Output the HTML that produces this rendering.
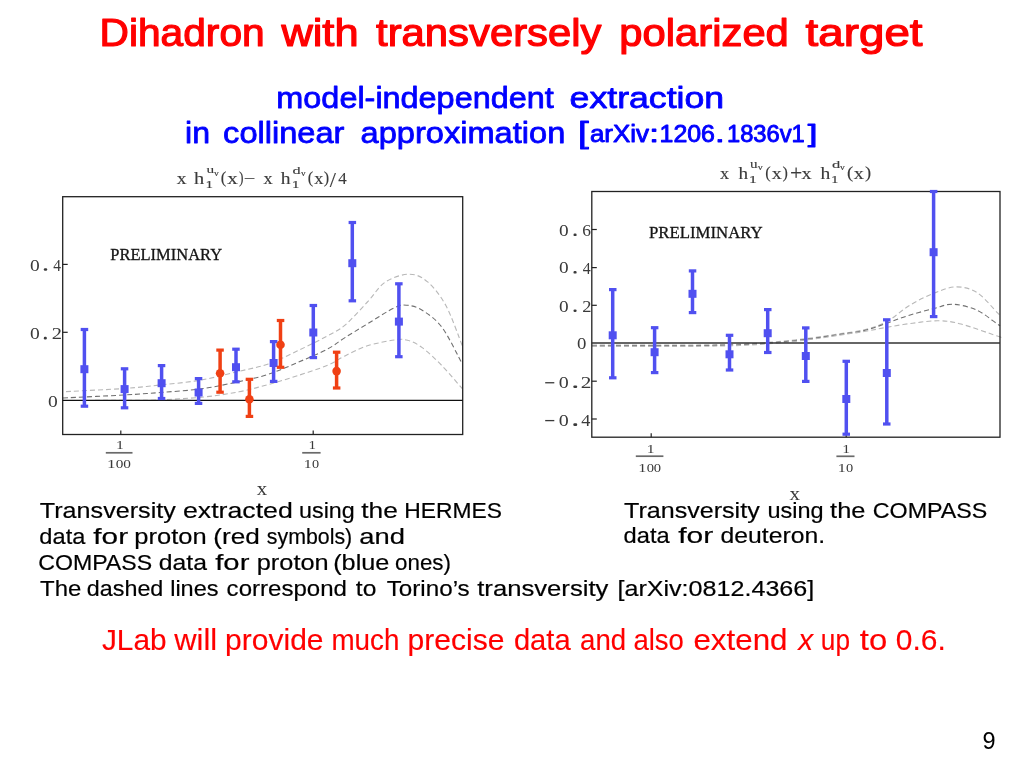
<!DOCTYPE html>
<html><head><meta charset="utf-8"><title>Dihadron with transversely polarized target</title>
<style>
html,body{margin:0;padding:0;background:#fff;}
body{width:1023px;height:767px;overflow:hidden;position:relative;font-family:"Liberation Sans",sans-serif;}
svg{position:absolute;left:0;top:0;display:block;will-change:transform;}
</style></head><body>
<svg width="1023" height="767" viewBox="0 0 1023 767">
<g fill="none" stroke-width="1.1" stroke-dasharray="5 3">
<path d="M66.0,391.6 C75.7,391.1 108.3,389.6 124.0,388.5 C139.7,387.4 147.2,386.4 160.0,385.0 C172.8,383.6 187.7,382.4 200.9,380.1 C214.1,377.8 227.8,374.0 239.0,371.3 C250.2,368.6 258.5,367.4 268.3,364.0 C278.1,360.6 287.8,355.4 297.6,350.8 C307.4,346.2 319.1,340.4 327.0,336.1 C334.9,331.8 338.3,330.8 345.0,325.1 C351.7,319.4 360.6,309.2 367.4,302.0 C374.2,294.8 378.6,286.5 385.6,281.9 C392.6,277.3 402.4,274.2 409.4,274.2 C416.4,274.2 421.5,276.7 427.6,281.9 C433.7,287.1 440.1,295.0 445.9,305.6 C451.7,316.2 459.6,339.1 462.3,345.8" stroke="#b8b8b8"/>
<path d="M63.0,398.0 C73.2,397.5 107.8,395.9 124.0,395.0 C140.2,394.1 147.2,393.5 160.0,392.5 C172.8,391.5 187.7,390.7 200.9,388.9 C214.1,387.1 227.8,384.0 239.0,381.6 C250.2,379.2 258.5,377.5 268.3,374.3 C278.1,371.1 287.8,366.7 297.6,362.5 C307.4,358.3 319.1,353.4 327.0,349.3 C334.9,345.2 338.3,341.8 345.0,337.6 C351.7,333.4 359.1,328.9 367.4,323.9 C375.7,318.9 388.1,310.6 394.8,307.5 C401.5,304.4 403.0,304.9 407.6,305.3 C412.2,305.8 416.4,306.5 422.2,310.2 C428.0,313.9 435.5,318.6 442.2,327.6 C448.9,336.6 458.9,358.0 462.3,364.1" stroke="#707070"/>
<path d="M63.0,400.5 C72.5,400.5 104.5,400.4 120.0,400.3 C135.5,400.2 142.0,400.6 156.0,400.0 C170.0,399.4 190.0,398.4 203.8,397.0 C217.6,395.6 228.2,393.9 239.0,391.8 C249.8,389.7 258.5,387.2 268.3,384.5 C278.1,381.8 287.8,378.9 297.6,375.7 C307.4,372.5 319.1,368.8 327.0,365.5 C334.9,362.2 338.3,359.2 345.0,355.9 C351.7,352.6 359.1,348.4 367.4,345.8 C375.7,343.2 388.1,340.9 394.8,340.0 C401.5,339.1 403.0,339.0 407.6,340.3 C412.2,341.6 416.4,343.3 422.2,347.6 C428.0,351.9 435.5,359.0 442.2,365.9 C448.9,372.8 458.9,384.9 462.3,388.7" stroke="#b8b8b8"/>
</g>
<rect x="62.7" y="196.7" width="400.0" height="237.8" fill="none" stroke="#222" stroke-width="1.3"/>
<line x1="62.7" y1="400.3" x2="462.7" y2="400.3" stroke="#111" stroke-width="1.3"/>
<line x1="62.7" y1="264.4" x2="67.7" y2="264.4" stroke="#222" stroke-width="1.2"/>
<line x1="62.7" y1="332.3" x2="67.7" y2="332.3" stroke="#222" stroke-width="1.2"/>
<line x1="120.8" y1="434.5" x2="120.8" y2="430.5" stroke="#222" stroke-width="1.2"/>
<line x1="313.2" y1="434.5" x2="313.2" y2="430.5" stroke="#222" stroke-width="1.2"/>
<line x1="84.4" y1="329.5" x2="84.4" y2="406.2" stroke="#5050f0" stroke-width="3.5"/><rect x="80.7" y="327.9" width="7.5" height="3.2" fill="#5050f0"/><rect x="80.7" y="404.6" width="7.5" height="3.2" fill="#5050f0"/><rect x="80.4" y="365.2" width="8" height="8" fill="#5050f0"/>
<line x1="124.6" y1="368.8" x2="124.6" y2="407.8" stroke="#5050f0" stroke-width="3.5"/><rect x="120.8" y="367.2" width="7.5" height="3.2" fill="#5050f0"/><rect x="120.8" y="406.2" width="7.5" height="3.2" fill="#5050f0"/><rect x="120.6" y="385.1" width="8" height="8" fill="#5050f0"/>
<line x1="161.6" y1="365.6" x2="161.6" y2="398.5" stroke="#5050f0" stroke-width="3.5"/><rect x="157.8" y="364.0" width="7.5" height="3.2" fill="#5050f0"/><rect x="157.8" y="396.9" width="7.5" height="3.2" fill="#5050f0"/><rect x="157.6" y="379.2" width="8" height="8" fill="#5050f0"/>
<line x1="198.6" y1="378.6" x2="198.6" y2="403.4" stroke="#5050f0" stroke-width="3.5"/><rect x="194.8" y="377.0" width="7.5" height="3.2" fill="#5050f0"/><rect x="194.8" y="401.8" width="7.5" height="3.2" fill="#5050f0"/><rect x="194.6" y="388.5" width="8" height="8" fill="#5050f0"/>
<line x1="220.1" y1="350.1" x2="220.1" y2="392.2" stroke="#f04014" stroke-width="3.5"/><rect x="216.3" y="348.5" width="7.5" height="3.2" fill="#f04014"/><rect x="216.3" y="390.6" width="7.5" height="3.2" fill="#f04014"/><circle cx="220.1" cy="373.2" r="4.3" fill="#f04014"/>
<line x1="236.0" y1="349.2" x2="236.0" y2="381.8" stroke="#5050f0" stroke-width="3.5"/><rect x="232.2" y="347.6" width="7.5" height="3.2" fill="#5050f0"/><rect x="232.2" y="380.2" width="7.5" height="3.2" fill="#5050f0"/><rect x="232.0" y="363.2" width="8" height="8" fill="#5050f0"/>
<line x1="249.4" y1="379.3" x2="249.4" y2="416.4" stroke="#f04014" stroke-width="3.5"/><rect x="245.7" y="377.7" width="7.5" height="3.2" fill="#f04014"/><rect x="245.7" y="414.8" width="7.5" height="3.2" fill="#f04014"/><circle cx="249.4" cy="399.2" r="4.3" fill="#f04014"/>
<line x1="273.6" y1="341.6" x2="273.6" y2="381.4" stroke="#5050f0" stroke-width="3.5"/><rect x="269.9" y="340.0" width="7.5" height="3.2" fill="#5050f0"/><rect x="269.9" y="379.8" width="7.5" height="3.2" fill="#5050f0"/><rect x="269.6" y="359.0" width="8" height="8" fill="#5050f0"/>
<line x1="280.5" y1="320.5" x2="280.5" y2="367.3" stroke="#f04014" stroke-width="3.5"/><rect x="276.8" y="318.9" width="7.5" height="3.2" fill="#f04014"/><rect x="276.8" y="365.7" width="7.5" height="3.2" fill="#f04014"/><circle cx="280.5" cy="344.8" r="4.3" fill="#f04014"/>
<line x1="313.3" y1="305.5" x2="313.3" y2="357.6" stroke="#5050f0" stroke-width="3.5"/><rect x="309.6" y="303.9" width="7.5" height="3.2" fill="#5050f0"/><rect x="309.6" y="356.0" width="7.5" height="3.2" fill="#5050f0"/><rect x="309.3" y="328.5" width="8" height="8" fill="#5050f0"/>
<line x1="336.6" y1="352.2" x2="336.6" y2="388.0" stroke="#f04014" stroke-width="3.5"/><rect x="332.9" y="350.6" width="7.5" height="3.2" fill="#f04014"/><rect x="332.9" y="386.4" width="7.5" height="3.2" fill="#f04014"/><circle cx="336.6" cy="371.1" r="4.3" fill="#f04014"/>
<line x1="352.3" y1="222.5" x2="352.3" y2="300.8" stroke="#5050f0" stroke-width="3.5"/><rect x="348.6" y="220.9" width="7.5" height="3.2" fill="#5050f0"/><rect x="348.6" y="299.2" width="7.5" height="3.2" fill="#5050f0"/><rect x="348.3" y="259.2" width="8" height="8" fill="#5050f0"/>
<line x1="398.9" y1="283.8" x2="398.9" y2="356.7" stroke="#5050f0" stroke-width="3.5"/><rect x="395.1" y="282.2" width="7.5" height="3.2" fill="#5050f0"/><rect x="395.1" y="355.1" width="7.5" height="3.2" fill="#5050f0"/><rect x="394.9" y="317.6" width="8" height="8" fill="#5050f0"/>
<g fill="none" stroke-width="1.1" stroke-dasharray="5 3">
<path d="M592.0,345.0 C601.7,345.0 632.0,345.1 650.0,345.1 C668.0,345.1 685.0,345.1 700.0,344.9 C715.0,344.7 727.7,344.6 740.0,344.1 C752.3,343.6 762.7,342.9 774.0,341.9 C785.3,341.0 797.7,339.7 808.0,338.4 C818.3,337.1 826.6,335.8 836.0,334.3 C845.4,332.9 855.7,331.8 864.2,329.7 C872.7,327.6 879.3,325.6 886.8,321.6 C894.3,317.6 901.6,310.2 909.4,305.5 C917.2,300.8 925.7,296.5 933.5,293.4 C941.3,290.3 948.8,287.0 956.1,286.9 C963.4,286.8 970.2,288.3 977.1,292.6 C984.0,296.9 993.5,308.9 997.3,312.7 C1001.1,316.5 999.5,315.0 1000.0,315.5" stroke="#b8b8b8"/>
<path d="M592.0,345.7 C601.7,345.7 632.0,345.8 650.0,345.8 C668.0,345.8 685.0,345.8 700.0,345.6 C715.0,345.4 727.7,345.3 740.0,344.8 C752.3,344.3 762.7,343.6 774.0,342.6 C785.3,341.7 797.7,340.4 808.0,339.1 C818.3,337.8 826.6,336.4 836.0,335.0 C845.4,333.6 855.7,332.5 864.2,330.5 C872.7,328.5 879.3,325.8 886.8,323.2 C894.3,320.6 901.6,317.6 909.4,315.2 C917.2,312.8 926.2,310.5 933.5,308.7 C940.8,306.9 945.6,303.9 952.9,304.2 C960.2,304.5 969.7,307.0 977.1,310.3 C984.5,313.6 993.5,321.5 997.3,324.0 C1001.1,326.5 999.5,325.2 1000.0,325.5" stroke="#707070"/>
<path d="M592.0,346.4 C601.7,346.4 632.0,346.5 650.0,346.5 C668.0,346.5 685.0,346.5 700.0,346.3 C715.0,346.1 727.7,346.0 740.0,345.5 C752.3,345.0 762.7,344.2 774.0,343.3 C785.3,342.4 797.7,341.1 808.0,339.8 C818.3,338.5 826.6,337.1 836.0,335.7 C845.4,334.3 855.7,332.9 864.2,331.5 C872.7,330.1 878.7,328.7 886.8,327.3 C894.9,325.9 904.0,324.3 912.6,323.2 C921.2,322.1 930.3,320.7 938.4,320.8 C946.5,320.9 951.2,321.4 961.0,324.0 C970.8,326.6 990.8,333.9 997.3,336.1 C1003.8,338.3 999.5,336.9 1000.0,337.0" stroke="#b8b8b8"/>
</g>
<rect x="591.8" y="191.5" width="408.2" height="245.7" fill="none" stroke="#222" stroke-width="1.3"/>
<line x1="591.8" y1="343.0" x2="1000.0" y2="343.0" stroke="#333" stroke-width="1.5"/>
<line x1="591.8" y1="229.5" x2="596.8" y2="229.5" stroke="#222" stroke-width="1.2"/>
<line x1="591.8" y1="267.6" x2="596.8" y2="267.6" stroke="#222" stroke-width="1.2"/>
<line x1="591.8" y1="305.3" x2="596.8" y2="305.3" stroke="#222" stroke-width="1.2"/>
<line x1="591.8" y1="381.2" x2="596.8" y2="381.2" stroke="#222" stroke-width="1.2"/>
<line x1="591.8" y1="419.0" x2="596.8" y2="419.0" stroke="#222" stroke-width="1.2"/>
<line x1="651.2" y1="437.2" x2="651.2" y2="433.2" stroke="#222" stroke-width="1.2"/>
<line x1="846.2" y1="437.2" x2="846.2" y2="433.2" stroke="#222" stroke-width="1.2"/>
<line x1="612.7" y1="289.6" x2="612.7" y2="377.8" stroke="#5050f0" stroke-width="3.5"/><rect x="609.0" y="288.0" width="7.5" height="3.2" fill="#5050f0"/><rect x="609.0" y="376.2" width="7.5" height="3.2" fill="#5050f0"/><rect x="608.7" y="331.3" width="8" height="8" fill="#5050f0"/>
<line x1="654.6" y1="327.7" x2="654.6" y2="372.6" stroke="#5050f0" stroke-width="3.5"/><rect x="650.9" y="326.1" width="7.5" height="3.2" fill="#5050f0"/><rect x="650.9" y="371.0" width="7.5" height="3.2" fill="#5050f0"/><rect x="650.6" y="348.2" width="8" height="8" fill="#5050f0"/>
<line x1="692.5" y1="270.9" x2="692.5" y2="312.6" stroke="#5050f0" stroke-width="3.5"/><rect x="688.8" y="269.3" width="7.5" height="3.2" fill="#5050f0"/><rect x="688.8" y="311.0" width="7.5" height="3.2" fill="#5050f0"/><rect x="688.5" y="289.8" width="8" height="8" fill="#5050f0"/>
<line x1="729.5" y1="335.3" x2="729.5" y2="370.0" stroke="#5050f0" stroke-width="3.5"/><rect x="725.8" y="333.7" width="7.5" height="3.2" fill="#5050f0"/><rect x="725.8" y="368.4" width="7.5" height="3.2" fill="#5050f0"/><rect x="725.5" y="350.3" width="8" height="8" fill="#5050f0"/>
<line x1="767.7" y1="309.6" x2="767.7" y2="352.5" stroke="#5050f0" stroke-width="3.5"/><rect x="764.0" y="308.0" width="7.5" height="3.2" fill="#5050f0"/><rect x="764.0" y="350.9" width="7.5" height="3.2" fill="#5050f0"/><rect x="763.7" y="329.2" width="8" height="8" fill="#5050f0"/>
<line x1="805.8" y1="327.9" x2="805.8" y2="381.4" stroke="#5050f0" stroke-width="3.5"/><rect x="802.0" y="326.3" width="7.5" height="3.2" fill="#5050f0"/><rect x="802.0" y="379.8" width="7.5" height="3.2" fill="#5050f0"/><rect x="801.8" y="352.0" width="8" height="8" fill="#5050f0"/>
<line x1="846.3" y1="361.3" x2="846.3" y2="434.2" stroke="#5050f0" stroke-width="3.5"/><rect x="842.5" y="359.7" width="7.5" height="3.2" fill="#5050f0"/><rect x="842.5" y="432.6" width="7.5" height="3.2" fill="#5050f0"/><rect x="842.3" y="395.0" width="8" height="8" fill="#5050f0"/>
<line x1="886.8" y1="319.8" x2="886.8" y2="424.0" stroke="#5050f0" stroke-width="3.5"/><rect x="883.0" y="318.2" width="7.5" height="3.2" fill="#5050f0"/><rect x="883.0" y="422.4" width="7.5" height="3.2" fill="#5050f0"/><rect x="882.8" y="369.0" width="8" height="8" fill="#5050f0"/>
<line x1="933.6" y1="191.5" x2="933.6" y2="316.6" stroke="#5050f0" stroke-width="3.5"/><rect x="929.9" y="189.9" width="7.5" height="3.2" fill="#5050f0"/><rect x="929.9" y="315.0" width="7.5" height="3.2" fill="#5050f0"/><rect x="929.6" y="248.2" width="8" height="8" fill="#5050f0"/>
<text x="29.92" y="270.64" font-size="16.15" fill="#3a3a3a" textLength="9.76" lengthAdjust="spacingAndGlyphs" font-family="Liberation Serif, serif" stroke="#3a3a3a" stroke-width="0.00" >0</text><rect x="43.80" y="268.20" width="3.40" height="2.60" rx="1.2" fill="#3a3a3a"/><text x="53.29" y="270.80" font-size="16.52" fill="#3a3a3a" textLength="7.74" lengthAdjust="spacingAndGlyphs" font-family="Liberation Serif, serif" stroke="#3a3a3a" stroke-width="0.00" >4</text>
<text x="30.12" y="339.23" font-size="16.59" fill="#3a3a3a" textLength="9.76" lengthAdjust="spacingAndGlyphs" font-family="Liberation Serif, serif" stroke="#3a3a3a" stroke-width="0.00" >0</text><rect x="43.80" y="336.80" width="3.00" height="2.60" rx="1.2" fill="#3a3a3a"/><text x="51.68" y="339.40" font-size="16.97" fill="#3a3a3a" textLength="10.25" lengthAdjust="spacingAndGlyphs" font-family="Liberation Serif, serif" stroke="#3a3a3a" stroke-width="0.00" >2</text>
<text x="48.12" y="406.64" font-size="15.70" fill="#3a3a3a" textLength="9.76" lengthAdjust="spacingAndGlyphs" font-family="Liberation Serif, serif" stroke="#3a3a3a" stroke-width="0.00" >0</text>
<text x="559.03" y="235.94" font-size="16.44" fill="#3a3a3a" textLength="9.64" lengthAdjust="spacingAndGlyphs" font-family="Liberation Serif, serif" stroke="#3a3a3a" stroke-width="0.00" >0</text><rect x="573.50" y="233.50" width="3.10" height="2.60" rx="1.2" fill="#3a3a3a"/><text x="582.22" y="235.93" font-size="16.57" fill="#3a3a3a" textLength="8.71" lengthAdjust="spacingAndGlyphs" font-family="Liberation Serif, serif" stroke="#3a3a3a" stroke-width="0.00" >6</text>
<text x="559.03" y="273.44" font-size="16.00" fill="#3a3a3a" textLength="9.64" lengthAdjust="spacingAndGlyphs" font-family="Liberation Serif, serif" stroke="#3a3a3a" stroke-width="0.00" >0</text><rect x="573.50" y="271.00" width="3.10" height="2.60" rx="1.2" fill="#3a3a3a"/><text x="582.68" y="273.60" font-size="16.36" fill="#3a3a3a" textLength="7.96" lengthAdjust="spacingAndGlyphs" font-family="Liberation Serif, serif" stroke="#3a3a3a" stroke-width="0.00" >4</text>
<text x="559.03" y="311.84" font-size="16.00" fill="#3a3a3a" textLength="9.64" lengthAdjust="spacingAndGlyphs" font-family="Liberation Serif, serif" stroke="#3a3a3a" stroke-width="0.00" >0</text><rect x="573.50" y="309.40" width="3.10" height="2.60" rx="1.2" fill="#3a3a3a"/><text x="582.17" y="312.00" font-size="16.36" fill="#3a3a3a" textLength="9.25" lengthAdjust="spacingAndGlyphs" font-family="Liberation Serif, serif" stroke="#3a3a3a" stroke-width="0.00" >2</text>
<text x="577.05" y="349.44" font-size="16.44" fill="#3a3a3a" textLength="9.40" lengthAdjust="spacingAndGlyphs" font-family="Liberation Serif, serif" stroke="#3a3a3a" stroke-width="0.00" >0</text>
<rect x="545.20" y="382.10" width="9.10" height="1.3" fill="#3a3a3a"/><text x="558.80" y="387.84" font-size="16.30" fill="#3a3a3a" textLength="10.00" lengthAdjust="spacingAndGlyphs" font-family="Liberation Serif, serif" stroke="#3a3a3a" stroke-width="0.00" >0</text><rect x="573.30" y="385.40" width="3.90" height="2.60" rx="1.2" fill="#3a3a3a"/><text x="580.74" y="388.00" font-size="16.67" fill="#3a3a3a" textLength="10.62" lengthAdjust="spacingAndGlyphs" font-family="Liberation Serif, serif" stroke="#3a3a3a" stroke-width="0.00" >2</text>
<rect x="545.20" y="419.95" width="9.10" height="1.3" fill="#3a3a3a"/><text x="558.80" y="425.74" font-size="16.44" fill="#3a3a3a" textLength="10.00" lengthAdjust="spacingAndGlyphs" font-family="Liberation Serif, serif" stroke="#3a3a3a" stroke-width="0.00" >0</text><rect x="573.30" y="423.30" width="3.90" height="2.60" rx="1.2" fill="#3a3a3a"/><text x="581.33" y="425.90" font-size="16.82" fill="#3a3a3a" textLength="9.14" lengthAdjust="spacingAndGlyphs" font-family="Liberation Serif, serif" stroke="#3a3a3a" stroke-width="0.00" >4</text>
<text x="116.09" y="449.40" font-size="12.42" fill="#3a3a3a" textLength="7.86" lengthAdjust="spacingAndGlyphs" font-family="Liberation Serif, serif" stroke="#3a3a3a" stroke-width="0.00" >1</text><rect x="105.80" y="451.95" width="26.70" height="1.7" fill="#6a6a6a"/><text x="107.05" y="467.80" font-size="13.03" fill="#3a3a3a" textLength="8.62" lengthAdjust="spacingAndGlyphs" font-family="Liberation Serif, serif" stroke="#3a3a3a" stroke-width="0.00" >1</text><text x="115.82" y="467.67" font-size="12.74" fill="#3a3a3a" textLength="7.66" lengthAdjust="spacingAndGlyphs" font-family="Liberation Serif, serif" stroke="#3a3a3a" stroke-width="0.00" >0</text><text x="123.25" y="467.67" font-size="12.74" fill="#3a3a3a" textLength="7.66" lengthAdjust="spacingAndGlyphs" font-family="Liberation Serif, serif" stroke="#3a3a3a" stroke-width="0.00" >0</text>
<text x="308.44" y="449.40" font-size="12.42" fill="#3a3a3a" textLength="7.57" lengthAdjust="spacingAndGlyphs" font-family="Liberation Serif, serif" stroke="#3a3a3a" stroke-width="0.00" >1</text><rect x="302.20" y="451.95" width="18.40" height="1.7" fill="#6a6a6a"/><text x="303.86" y="467.80" font-size="13.03" fill="#3a3a3a" textLength="8.00" lengthAdjust="spacingAndGlyphs" font-family="Liberation Serif, serif" stroke="#3a3a3a" stroke-width="0.00" >1</text><text x="312.13" y="467.67" font-size="12.74" fill="#3a3a3a" textLength="7.14" lengthAdjust="spacingAndGlyphs" font-family="Liberation Serif, serif" stroke="#3a3a3a" stroke-width="0.00" >0</text>
<text x="646.69" y="452.80" font-size="12.73" fill="#3a3a3a" textLength="7.86" lengthAdjust="spacingAndGlyphs" font-family="Liberation Serif, serif" stroke="#3a3a3a" stroke-width="0.00" >1</text><rect x="635.80" y="455.35" width="27.60" height="1.7" fill="#6a6a6a"/><text x="638.33" y="471.70" font-size="13.03" fill="#3a3a3a" textLength="8.19" lengthAdjust="spacingAndGlyphs" font-family="Liberation Serif, serif" stroke="#3a3a3a" stroke-width="0.00" >1</text><text x="646.75" y="471.57" font-size="12.74" fill="#3a3a3a" textLength="7.30" lengthAdjust="spacingAndGlyphs" font-family="Liberation Serif, serif" stroke="#3a3a3a" stroke-width="0.00" >0</text><text x="653.88" y="471.57" font-size="12.74" fill="#3a3a3a" textLength="7.30" lengthAdjust="spacingAndGlyphs" font-family="Liberation Serif, serif" stroke="#3a3a3a" stroke-width="0.00" >0</text>
<text x="842.39" y="452.80" font-size="12.73" fill="#3a3a3a" textLength="7.86" lengthAdjust="spacingAndGlyphs" font-family="Liberation Serif, serif" stroke="#3a3a3a" stroke-width="0.00" >1</text><rect x="836.40" y="455.45" width="18.10" height="1.7" fill="#6a6a6a"/><text x="837.75" y="471.70" font-size="13.03" fill="#3a3a3a" textLength="8.07" lengthAdjust="spacingAndGlyphs" font-family="Liberation Serif, serif" stroke="#3a3a3a" stroke-width="0.00" >1</text><text x="846.07" y="471.57" font-size="12.74" fill="#3a3a3a" textLength="7.20" lengthAdjust="spacingAndGlyphs" font-family="Liberation Serif, serif" stroke="#3a3a3a" stroke-width="0.00" >0</text>
<text x="256.79" y="495.00" font-size="17.83" fill="#3a3a3a" textLength="10.42" lengthAdjust="spacingAndGlyphs" font-family="Liberation Serif, serif" stroke="#3a3a3a" stroke-width="0.00" >x</text>
<text x="789.59" y="499.60" font-size="18.04" fill="#3a3a3a" textLength="10.52" lengthAdjust="spacingAndGlyphs" font-family="Liberation Serif, serif" stroke="#3a3a3a" stroke-width="0.00" >x</text>
<text x="110.3" y="259.6" font-size="16.4" textLength="111.8" lengthAdjust="spacingAndGlyphs" font-family="Liberation Serif, serif" fill="#151515" stroke="#151515" stroke-width="0.3">PRELIMINARY</text>
<text x="648.9" y="238.2" font-size="16.6" textLength="113.8" lengthAdjust="spacingAndGlyphs" font-family="Liberation Serif, serif" fill="#151515" stroke="#151515" stroke-width="0.3">PRELIMINARY</text>
<text x="176.70" y="183.90" font-size="16.52" fill="#3a3a3a" textLength="9.79" lengthAdjust="spacingAndGlyphs" font-family="Liberation Serif, serif" stroke="#3a3a3a" stroke-width="0.12" >x</text><text x="194.00" y="183.90" font-size="16.26" fill="#3a3a3a" textLength="10.21" lengthAdjust="spacingAndGlyphs" font-family="Liberation Serif, serif" stroke="#3a3a3a" stroke-width="0.12" >h</text><text x="205.54" y="188.10" font-size="10.00" fill="#3a3a3a" textLength="7.57" lengthAdjust="spacingAndGlyphs" font-family="Liberation Serif, serif" stroke="#3a3a3a" stroke-width="0.12" >1</text><text x="206.57" y="173.49" font-size="11.06" fill="#3a3a3a" textLength="7.66" lengthAdjust="spacingAndGlyphs" font-family="Liberation Serif, serif" stroke="#3a3a3a" stroke-width="0.12" >u</text><text x="214.00" y="175.93" font-size="7.23" fill="#3a3a3a" textLength="4.80" lengthAdjust="spacingAndGlyphs" font-family="Liberation Serif, serif" stroke="#3a3a3a" stroke-width="0.12" >v</text><text x="220.74" y="183.37" font-size="15.93" fill="#3a3a3a" textLength="5.62" lengthAdjust="spacingAndGlyphs" font-family="Liberation Serif, serif" stroke="#3a3a3a" stroke-width="0.12" >(</text><text x="227.39" y="183.90" font-size="16.52" fill="#3a3a3a" textLength="10.52" lengthAdjust="spacingAndGlyphs" font-family="Liberation Serif, serif" stroke="#3a3a3a" stroke-width="0.12" >x</text><text x="239.10" y="183.37" font-size="15.93" fill="#3a3a3a" textLength="4.48" lengthAdjust="spacingAndGlyphs" font-family="Liberation Serif, serif" stroke="#3a3a3a" stroke-width="0.12" >)</text><text x="243.77" y="184.23" font-size="16.00" fill="#3a3a3a" textLength="11.64" lengthAdjust="spacingAndGlyphs" font-family="Liberation Serif, serif" stroke="#3a3a3a" stroke-width="0.12" >−</text><text x="263.62" y="183.90" font-size="16.52" fill="#3a3a3a" textLength="9.17" lengthAdjust="spacingAndGlyphs" font-family="Liberation Serif, serif" stroke="#3a3a3a" stroke-width="0.12" >x</text><text x="280.80" y="183.90" font-size="16.26" fill="#3a3a3a" textLength="9.79" lengthAdjust="spacingAndGlyphs" font-family="Liberation Serif, serif" stroke="#3a3a3a" stroke-width="0.12" >h</text><text x="291.69" y="188.10" font-size="10.00" fill="#3a3a3a" textLength="7.86" lengthAdjust="spacingAndGlyphs" font-family="Liberation Serif, serif" stroke="#3a3a3a" stroke-width="0.12" >1</text><text x="292.53" y="173.79" font-size="11.21" fill="#3a3a3a" textLength="8.13" lengthAdjust="spacingAndGlyphs" font-family="Liberation Serif, serif" stroke="#3a3a3a" stroke-width="0.12" >d</text><text x="301.00" y="175.93" font-size="7.23" fill="#3a3a3a" textLength="4.60" lengthAdjust="spacingAndGlyphs" font-family="Liberation Serif, serif" stroke="#3a3a3a" stroke-width="0.12" >v</text><text x="307.66" y="183.37" font-size="15.93" fill="#3a3a3a" textLength="5.49" lengthAdjust="spacingAndGlyphs" font-family="Liberation Serif, serif" stroke="#3a3a3a" stroke-width="0.12" >(</text><text x="314.22" y="183.90" font-size="16.52" fill="#3a3a3a" textLength="9.17" lengthAdjust="spacingAndGlyphs" font-family="Liberation Serif, serif" stroke="#3a3a3a" stroke-width="0.12" >x</text><text x="323.72" y="183.37" font-size="15.93" fill="#3a3a3a" textLength="5.38" lengthAdjust="spacingAndGlyphs" font-family="Liberation Serif, serif" stroke="#3a3a3a" stroke-width="0.12" >)</text><text x="329.70" y="186.58" font-size="21.64" fill="#3a3a3a" textLength="6.16" lengthAdjust="spacingAndGlyphs" font-family="Liberation Serif, serif" stroke="#3a3a3a" stroke-width="0.12" >/</text><text x="338.26" y="183.90" font-size="16.06" fill="#3a3a3a" textLength="8.49" lengthAdjust="spacingAndGlyphs" font-family="Liberation Serif, serif" stroke="#3a3a3a" stroke-width="0.12" >4</text>
<text x="720.02" y="178.70" font-size="16.52" fill="#3a3a3a" textLength="9.17" lengthAdjust="spacingAndGlyphs" font-family="Liberation Serif, serif" stroke="#3a3a3a" stroke-width="0.12" >x</text><text x="738.51" y="178.70" font-size="16.26" fill="#3a3a3a" textLength="9.58" lengthAdjust="spacingAndGlyphs" font-family="Liberation Serif, serif" stroke="#3a3a3a" stroke-width="0.12" >h</text><text x="748.81" y="182.60" font-size="10.00" fill="#3a3a3a" textLength="8.29" lengthAdjust="spacingAndGlyphs" font-family="Liberation Serif, serif" stroke="#3a3a3a" stroke-width="0.12" >1</text><text x="750.07" y="167.78" font-size="11.91" fill="#3a3a3a" textLength="7.55" lengthAdjust="spacingAndGlyphs" font-family="Liberation Serif, serif" stroke="#3a3a3a" stroke-width="0.12" >u</text><text x="757.80" y="170.13" font-size="7.23" fill="#3a3a3a" textLength="5.00" lengthAdjust="spacingAndGlyphs" font-family="Liberation Serif, serif" stroke="#3a3a3a" stroke-width="0.12" >v</text><text x="765.36" y="178.17" font-size="15.93" fill="#3a3a3a" textLength="5.49" lengthAdjust="spacingAndGlyphs" font-family="Liberation Serif, serif" stroke="#3a3a3a" stroke-width="0.12" >(</text><text x="771.70" y="178.70" font-size="16.52" fill="#3a3a3a" textLength="10.00" lengthAdjust="spacingAndGlyphs" font-family="Liberation Serif, serif" stroke="#3a3a3a" stroke-width="0.12" >x</text><text x="782.62" y="178.17" font-size="15.93" fill="#3a3a3a" textLength="5.38" lengthAdjust="spacingAndGlyphs" font-family="Liberation Serif, serif" stroke="#3a3a3a" stroke-width="0.12" >)</text><text x="790.11" y="180.10" font-size="20.00" fill="#3a3a3a" textLength="12.25" lengthAdjust="spacingAndGlyphs" font-family="Liberation Serif, serif" stroke="#3a3a3a" stroke-width="0.12" >+</text><text x="801.50" y="178.70" font-size="16.52" fill="#3a3a3a" textLength="10.10" lengthAdjust="spacingAndGlyphs" font-family="Liberation Serif, serif" stroke="#3a3a3a" stroke-width="0.12" >x</text><text x="820.40" y="178.70" font-size="16.26" fill="#3a3a3a" textLength="9.79" lengthAdjust="spacingAndGlyphs" font-family="Liberation Serif, serif" stroke="#3a3a3a" stroke-width="0.12" >h</text><text x="831.14" y="182.60" font-size="10.00" fill="#3a3a3a" textLength="7.57" lengthAdjust="spacingAndGlyphs" font-family="Liberation Serif, serif" stroke="#3a3a3a" stroke-width="0.12" >1</text><text x="831.92" y="168.19" font-size="11.06" fill="#3a3a3a" textLength="8.24" lengthAdjust="spacingAndGlyphs" font-family="Liberation Serif, serif" stroke="#3a3a3a" stroke-width="0.12" >d</text><text x="840.00" y="170.13" font-size="7.23" fill="#3a3a3a" textLength="4.80" lengthAdjust="spacingAndGlyphs" font-family="Liberation Serif, serif" stroke="#3a3a3a" stroke-width="0.12" >v</text><text x="847.05" y="178.17" font-size="15.93" fill="#3a3a3a" textLength="6.27" lengthAdjust="spacingAndGlyphs" font-family="Liberation Serif, serif" stroke="#3a3a3a" stroke-width="0.12" >(</text><text x="853.80" y="178.70" font-size="16.52" fill="#3a3a3a" textLength="10.10" lengthAdjust="spacingAndGlyphs" font-family="Liberation Serif, serif" stroke="#3a3a3a" stroke-width="0.12" >x</text><text x="864.95" y="178.17" font-size="15.93" fill="#3a3a3a" textLength="6.15" lengthAdjust="spacingAndGlyphs" font-family="Liberation Serif, serif" stroke="#3a3a3a" stroke-width="0.12" >)</text>
<text x="99.54" y="46.30" font-size="39.00" font-weight="normal" font-style="normal" fill="#ff0000" stroke="#ff0000" stroke-width="1.20" stroke-linejoin="round" textLength="165.13" lengthAdjust="spacingAndGlyphs" font-family="Liberation Sans, sans-serif" >Dihadron</text>
<text x="281.40" y="46.30" font-size="39.00" font-weight="normal" font-style="normal" fill="#ff0000" stroke="#ff0000" stroke-width="1.20" stroke-linejoin="round" textLength="77.17" lengthAdjust="spacingAndGlyphs" font-family="Liberation Sans, sans-serif" >with</text>
<text x="376.07" y="46.30" font-size="39.00" font-weight="normal" font-style="normal" fill="#ff0000" stroke="#ff0000" stroke-width="1.20" stroke-linejoin="round" textLength="225.37" lengthAdjust="spacingAndGlyphs" font-family="Liberation Sans, sans-serif" >transversely</text>
<text x="619.39" y="46.30" font-size="39.00" font-weight="normal" font-style="normal" fill="#ff0000" stroke="#ff0000" stroke-width="1.20" stroke-linejoin="round" textLength="169.47" lengthAdjust="spacingAndGlyphs" font-family="Liberation Sans, sans-serif" >polarized</text>
<text x="805.61" y="46.30" font-size="39.00" font-weight="normal" font-style="normal" fill="#ff0000" stroke="#ff0000" stroke-width="1.20" stroke-linejoin="round" textLength="116.91" lengthAdjust="spacingAndGlyphs" font-family="Liberation Sans, sans-serif" >target</text>
<text x="276.39" y="108.20" font-size="30.00" font-weight="normal" font-style="normal" fill="#0000ff" stroke="#0000ff" stroke-width="0.80" stroke-linejoin="round" textLength="277.34" lengthAdjust="spacingAndGlyphs" font-family="Liberation Sans, sans-serif" >model-independent</text>
<text x="569.57" y="108.20" font-size="30.00" font-weight="normal" font-style="normal" fill="#0000ff" stroke="#0000ff" stroke-width="0.80" stroke-linejoin="round" textLength="154.67" lengthAdjust="spacingAndGlyphs" font-family="Liberation Sans, sans-serif" >extraction</text>
<text x="185.11" y="142.50" font-size="30.00" font-weight="normal" font-style="normal" fill="#0000ff" stroke="#0000ff" stroke-width="0.80" stroke-linejoin="round" textLength="24.98" lengthAdjust="spacingAndGlyphs" font-family="Liberation Sans, sans-serif" >in</text>
<text x="223.10" y="142.50" font-size="30.00" font-weight="normal" font-style="normal" fill="#0000ff" stroke="#0000ff" stroke-width="0.80" stroke-linejoin="round" textLength="121.33" lengthAdjust="spacingAndGlyphs" font-family="Liberation Sans, sans-serif" >collinear</text>
<text x="360.60" y="142.50" font-size="30.00" font-weight="normal" font-style="normal" fill="#0000ff" stroke="#0000ff" stroke-width="0.80" stroke-linejoin="round" textLength="204.67" lengthAdjust="spacingAndGlyphs" font-family="Liberation Sans, sans-serif" >approximation</text>
<text x="577.70" y="142.50" font-size="30.00" font-weight="normal" font-style="normal" fill="#0000ff" stroke="#0000ff" stroke-width="0.80" stroke-linejoin="round" textLength="11.11" lengthAdjust="spacingAndGlyphs" font-family="Liberation Sans, sans-serif" >[</text>
<text x="589.91" y="142.20" font-size="23.50" font-weight="normal" font-style="normal" fill="#0000ff" stroke="#0000ff" stroke-width="0.90" stroke-linejoin="round" textLength="59.03" lengthAdjust="spacingAndGlyphs" font-family="Liberation Sans, sans-serif" >arXiv</text>
<text x="649.32" y="142.20" font-size="23.50" font-weight="normal" font-style="normal" fill="#0000ff" stroke="#0000ff" stroke-width="0.90" stroke-linejoin="round" textLength="9.65" lengthAdjust="spacingAndGlyphs" font-family="Liberation Sans, sans-serif" >:</text>
<text x="659.58" y="142.20" font-size="23.50" font-weight="normal" font-style="normal" fill="#0000ff" stroke="#0000ff" stroke-width="0.90" stroke-linejoin="round" textLength="55.38" lengthAdjust="spacingAndGlyphs" font-family="Liberation Sans, sans-serif" >1206</text>
<text x="715.02" y="142.20" font-size="23.50" font-weight="normal" font-style="normal" fill="#0000ff" stroke="#0000ff" stroke-width="0.90" stroke-linejoin="round" textLength="9.65" lengthAdjust="spacingAndGlyphs" font-family="Liberation Sans, sans-serif" >.</text>
<text x="726.97" y="142.20" font-size="23.50" font-weight="normal" font-style="normal" fill="#0000ff" stroke="#0000ff" stroke-width="0.90" stroke-linejoin="round" textLength="77.76" lengthAdjust="spacingAndGlyphs" font-family="Liberation Sans, sans-serif" >1836v1</text>
<text x="807.78" y="142.20" font-size="23.50" font-weight="normal" font-style="normal" fill="#0000ff" stroke="#0000ff" stroke-width="0.90" stroke-linejoin="round" textLength="9.58" lengthAdjust="spacingAndGlyphs" font-family="Liberation Sans, sans-serif" >]</text>
<text x="39.80" y="518.40" font-size="22.50" font-weight="normal" font-style="normal" fill="#000" stroke="#000" stroke-width="0.20" stroke-linejoin="round" textLength="135.99" lengthAdjust="spacingAndGlyphs" font-family="Liberation Sans, sans-serif" >Transversity</text>
<text x="182.93" y="518.40" font-size="22.50" font-weight="normal" font-style="normal" fill="#000" stroke="#000" stroke-width="0.20" stroke-linejoin="round" textLength="109.89" lengthAdjust="spacingAndGlyphs" font-family="Liberation Sans, sans-serif" >extracted</text>
<text x="299.09" y="518.40" font-size="22.50" font-weight="normal" font-style="normal" fill="#000" stroke="#000" stroke-width="0.20" stroke-linejoin="round" textLength="55.64" lengthAdjust="spacingAndGlyphs" font-family="Liberation Sans, sans-serif" >using</text>
<text x="361.21" y="518.40" font-size="22.50" font-weight="normal" font-style="normal" fill="#000" stroke="#000" stroke-width="0.20" stroke-linejoin="round" textLength="36.58" lengthAdjust="spacingAndGlyphs" font-family="Liberation Sans, sans-serif" >the</text>
<text x="404.37" y="518.40" font-size="22.50" font-weight="normal" font-style="normal" fill="#000" stroke="#000" stroke-width="0.20" stroke-linejoin="round" textLength="97.63" lengthAdjust="spacingAndGlyphs" font-family="Liberation Sans, sans-serif" >HERMES</text>
<text x="39.36" y="544.20" font-size="22.50" font-weight="normal" font-style="normal" fill="#000" stroke="#000" stroke-width="0.20" stroke-linejoin="round" textLength="45.98" lengthAdjust="spacingAndGlyphs" font-family="Liberation Sans, sans-serif" >data</text>
<text x="93.35" y="544.20" font-size="22.50" font-weight="normal" font-style="normal" fill="#000" stroke="#000" stroke-width="0.20" stroke-linejoin="round" textLength="34.75" lengthAdjust="spacingAndGlyphs" font-family="Liberation Sans, sans-serif" >for</text>
<text x="134.34" y="544.20" font-size="22.50" font-weight="normal" font-style="normal" fill="#000" stroke="#000" stroke-width="0.20" stroke-linejoin="round" textLength="72.33" lengthAdjust="spacingAndGlyphs" font-family="Liberation Sans, sans-serif" >proton</text>
<text x="213.23" y="544.20" font-size="22.50" font-weight="normal" font-style="normal" fill="#000" stroke="#000" stroke-width="0.20" stroke-linejoin="round" textLength="46.56" lengthAdjust="spacingAndGlyphs" font-family="Liberation Sans, sans-serif" >(red</text>
<text x="266.86" y="544.20" font-size="22.50" font-weight="normal" font-style="normal" fill="#000" stroke="#000" stroke-width="0.20" stroke-linejoin="round" textLength="85.33" lengthAdjust="spacingAndGlyphs" font-family="Liberation Sans, sans-serif" >symbols)</text>
<text x="359.31" y="544.20" font-size="22.50" font-weight="normal" font-style="normal" fill="#000" stroke="#000" stroke-width="0.20" stroke-linejoin="round" textLength="45.67" lengthAdjust="spacingAndGlyphs" font-family="Liberation Sans, sans-serif" >and</text>
<text x="38.24" y="570.00" font-size="22.50" font-weight="normal" font-style="normal" fill="#000" stroke="#000" stroke-width="0.20" stroke-linejoin="round" textLength="113.84" lengthAdjust="spacingAndGlyphs" font-family="Liberation Sans, sans-serif" >COMPASS</text>
<text x="158.81" y="570.00" font-size="22.50" font-weight="normal" font-style="normal" fill="#000" stroke="#000" stroke-width="0.20" stroke-linejoin="round" textLength="48.12" lengthAdjust="spacingAndGlyphs" font-family="Liberation Sans, sans-serif" >data</text>
<text x="215.26" y="570.00" font-size="22.50" font-weight="normal" font-style="normal" fill="#000" stroke="#000" stroke-width="0.20" stroke-linejoin="round" textLength="34.14" lengthAdjust="spacingAndGlyphs" font-family="Liberation Sans, sans-serif" >for</text>
<text x="256.75" y="570.00" font-size="22.50" font-weight="normal" font-style="normal" fill="#000" stroke="#000" stroke-width="0.20" stroke-linejoin="round" textLength="71.91" lengthAdjust="spacingAndGlyphs" font-family="Liberation Sans, sans-serif" >proton</text>
<text x="333.18" y="570.00" font-size="22.50" font-weight="normal" font-style="normal" fill="#000" stroke="#000" stroke-width="0.20" stroke-linejoin="round" textLength="56.22" lengthAdjust="spacingAndGlyphs" font-family="Liberation Sans, sans-serif" >(blue</text>
<text x="395.11" y="570.00" font-size="22.50" font-weight="normal" font-style="normal" fill="#000" stroke="#000" stroke-width="0.20" stroke-linejoin="round" textLength="55.87" lengthAdjust="spacingAndGlyphs" font-family="Liberation Sans, sans-serif" >ones)</text>
<text x="40.02" y="595.90" font-size="22.50" font-weight="normal" font-style="normal" fill="#000" stroke="#000" stroke-width="0.20" stroke-linejoin="round" textLength="41.23" lengthAdjust="spacingAndGlyphs" font-family="Liberation Sans, sans-serif" >The</text>
<text x="86.87" y="595.90" font-size="22.50" font-weight="normal" font-style="normal" fill="#000" stroke="#000" stroke-width="0.20" stroke-linejoin="round" textLength="76.47" lengthAdjust="spacingAndGlyphs" font-family="Liberation Sans, sans-serif" >dashed</text>
<text x="170.17" y="595.90" font-size="22.50" font-weight="normal" font-style="normal" fill="#000" stroke="#000" stroke-width="0.20" stroke-linejoin="round" textLength="48.39" lengthAdjust="spacingAndGlyphs" font-family="Liberation Sans, sans-serif" >lines</text>
<text x="226.64" y="595.90" font-size="22.50" font-weight="normal" font-style="normal" fill="#000" stroke="#000" stroke-width="0.20" stroke-linejoin="round" textLength="120.30" lengthAdjust="spacingAndGlyphs" font-family="Liberation Sans, sans-serif" >correspond</text>
<text x="355.83" y="595.90" font-size="22.50" font-weight="normal" font-style="normal" fill="#000" stroke="#000" stroke-width="0.20" stroke-linejoin="round" textLength="20.53" lengthAdjust="spacingAndGlyphs" font-family="Liberation Sans, sans-serif" >to</text>
<text x="386.72" y="595.90" font-size="22.50" font-weight="normal" font-style="normal" fill="#000" stroke="#000" stroke-width="0.20" stroke-linejoin="round" textLength="82.98" lengthAdjust="spacingAndGlyphs" font-family="Liberation Sans, sans-serif" >Torino’s</text>
<text x="477.22" y="595.90" font-size="22.50" font-weight="normal" font-style="normal" fill="#000" stroke="#000" stroke-width="0.20" stroke-linejoin="round" textLength="131.18" lengthAdjust="spacingAndGlyphs" font-family="Liberation Sans, sans-serif" >transversity</text>
<text x="617.44" y="595.90" font-size="22.50" font-weight="normal" font-style="normal" fill="#000" stroke="#000" stroke-width="0.20" stroke-linejoin="round" textLength="196.82" lengthAdjust="spacingAndGlyphs" font-family="Liberation Sans, sans-serif" >[arXiv:0812.4366]</text>
<text x="624.00" y="517.70" font-size="22.50" font-weight="normal" font-style="normal" fill="#000" stroke="#000" stroke-width="0.20" stroke-linejoin="round" textLength="135.69" lengthAdjust="spacingAndGlyphs" font-family="Liberation Sans, sans-serif" >Transversity</text>
<text x="767.47" y="517.70" font-size="22.50" font-weight="normal" font-style="normal" fill="#000" stroke="#000" stroke-width="0.20" stroke-linejoin="round" textLength="56.17" lengthAdjust="spacingAndGlyphs" font-family="Liberation Sans, sans-serif" >using</text>
<text x="830.12" y="517.70" font-size="22.50" font-weight="normal" font-style="normal" fill="#000" stroke="#000" stroke-width="0.20" stroke-linejoin="round" textLength="35.33" lengthAdjust="spacingAndGlyphs" font-family="Liberation Sans, sans-serif" >the</text>
<text x="872.74" y="517.70" font-size="22.50" font-weight="normal" font-style="normal" fill="#000" stroke="#000" stroke-width="0.20" stroke-linejoin="round" textLength="114.66" lengthAdjust="spacingAndGlyphs" font-family="Liberation Sans, sans-serif" >COMPASS</text>
<text x="623.55" y="543.10" font-size="22.50" font-weight="normal" font-style="normal" fill="#000" stroke="#000" stroke-width="0.20" stroke-linejoin="round" textLength="46.08" lengthAdjust="spacingAndGlyphs" font-family="Liberation Sans, sans-serif" >data</text>
<text x="678.15" y="543.10" font-size="22.50" font-weight="normal" font-style="normal" fill="#000" stroke="#000" stroke-width="0.20" stroke-linejoin="round" textLength="35.06" lengthAdjust="spacingAndGlyphs" font-family="Liberation Sans, sans-serif" >for</text>
<text x="720.61" y="543.10" font-size="22.50" font-weight="normal" font-style="normal" fill="#000" stroke="#000" stroke-width="0.20" stroke-linejoin="round" textLength="104.43" lengthAdjust="spacingAndGlyphs" font-family="Liberation Sans, sans-serif" >deuteron.</text>
<text x="101.93" y="649.80" font-size="29.50" font-weight="normal" font-style="normal" fill="#ff0000" stroke="#ff0000" stroke-width="0.15" stroke-linejoin="round" textLength="64.70" lengthAdjust="spacingAndGlyphs" font-family="Liberation Sans, sans-serif" >JLab</text>
<text x="174.27" y="649.80" font-size="29.50" font-weight="normal" font-style="normal" fill="#ff0000" stroke="#ff0000" stroke-width="0.15" stroke-linejoin="round" textLength="42.98" lengthAdjust="spacingAndGlyphs" font-family="Liberation Sans, sans-serif" >will</text>
<text x="225.12" y="649.80" font-size="29.50" font-weight="normal" font-style="normal" fill="#ff0000" stroke="#ff0000" stroke-width="0.15" stroke-linejoin="round" textLength="98.45" lengthAdjust="spacingAndGlyphs" font-family="Liberation Sans, sans-serif" >provide</text>
<text x="331.47" y="649.80" font-size="29.50" font-weight="normal" font-style="normal" fill="#ff0000" stroke="#ff0000" stroke-width="0.15" stroke-linejoin="round" textLength="67.97" lengthAdjust="spacingAndGlyphs" font-family="Liberation Sans, sans-serif" >much</text>
<text x="407.52" y="649.80" font-size="29.50" font-weight="normal" font-style="normal" fill="#ff0000" stroke="#ff0000" stroke-width="0.15" stroke-linejoin="round" textLength="97.02" lengthAdjust="spacingAndGlyphs" font-family="Liberation Sans, sans-serif" >precise</text>
<text x="513.91" y="649.80" font-size="29.50" font-weight="normal" font-style="normal" fill="#ff0000" stroke="#ff0000" stroke-width="0.15" stroke-linejoin="round" textLength="56.76" lengthAdjust="spacingAndGlyphs" font-family="Liberation Sans, sans-serif" >data</text>
<text x="580.07" y="649.80" font-size="29.50" font-weight="normal" font-style="normal" fill="#ff0000" stroke="#ff0000" stroke-width="0.15" stroke-linejoin="round" textLength="46.04" lengthAdjust="spacingAndGlyphs" font-family="Liberation Sans, sans-serif" >and</text>
<text x="633.48" y="649.80" font-size="29.50" font-weight="normal" font-style="normal" fill="#ff0000" stroke="#ff0000" stroke-width="0.15" stroke-linejoin="round" textLength="50.44" lengthAdjust="spacingAndGlyphs" font-family="Liberation Sans, sans-serif" >also</text>
<text x="693.42" y="649.80" font-size="29.50" font-weight="normal" font-style="normal" fill="#ff0000" stroke="#ff0000" stroke-width="0.15" stroke-linejoin="round" textLength="94.12" lengthAdjust="spacingAndGlyphs" font-family="Liberation Sans, sans-serif" >extend</text>
<text x="798.27" y="649.80" font-size="29.50" font-weight="normal" font-style="italic" fill="#ff0000" stroke="#ff0000" stroke-width="0.15" stroke-linejoin="round" textLength="14.91" lengthAdjust="spacingAndGlyphs" font-family="Liberation Sans, sans-serif" >x</text>
<text x="820.87" y="649.80" font-size="29.50" font-weight="normal" font-style="normal" fill="#ff0000" stroke="#ff0000" stroke-width="0.15" stroke-linejoin="round" textLength="29.16" lengthAdjust="spacingAndGlyphs" font-family="Liberation Sans, sans-serif" >up</text>
<text x="859.78" y="649.80" font-size="29.50" font-weight="normal" font-style="normal" fill="#ff0000" stroke="#ff0000" stroke-width="0.15" stroke-linejoin="round" textLength="27.43" lengthAdjust="spacingAndGlyphs" font-family="Liberation Sans, sans-serif" >to</text>
<text x="895.88" y="649.80" font-size="29.50" font-weight="normal" font-style="normal" fill="#ff0000" stroke="#ff0000" stroke-width="0.15" stroke-linejoin="round" textLength="49.93" lengthAdjust="spacingAndGlyphs" font-family="Liberation Sans, sans-serif" >0.6.</text>
<text x="982.6" y="748.7" font-size="23.5" fill="#000" font-family="Liberation Sans, sans-serif">9</text>
</svg>
</body></html>
